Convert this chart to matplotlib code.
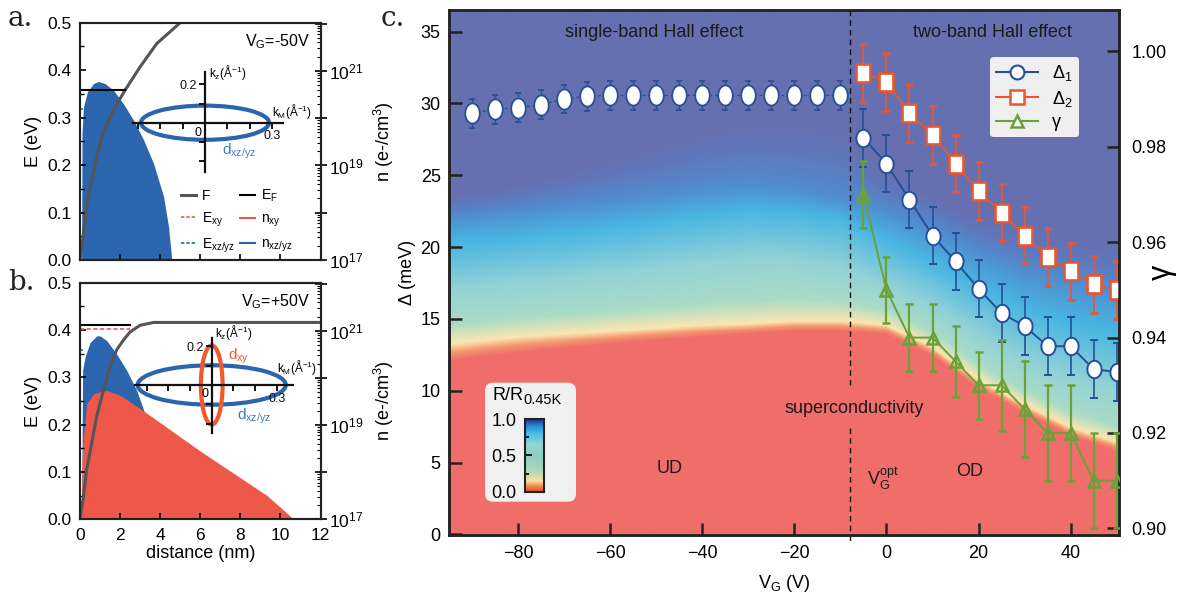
import numpy as np
import matplotlib
matplotlib.use('Agg')
import matplotlib.pyplot as plt
import matplotlib.ticker as mticker
from matplotlib.colors import LinearSegmentedColormap
from matplotlib.patches import Ellipse, FancyBboxPatch
from matplotlib.lines import Line2D
from matplotlib.path import Path

plt.rcParams['font.family'] = ['Liberation Sans', 'DejaVu Sans']
plt.rcParams['mathtext.fontset'] = 'custom'
plt.rcParams['mathtext.rm'] = 'Liberation Sans'
plt.rcParams['mathtext.it'] = 'Liberation Sans:italic'
plt.rcParams['mathtext.bf'] = 'Liberation Sans:bold'
plt.rcParams['mathtext.default'] = 'regular'

# ------------------------------------------------------------------ data
# panel a (V_G = -50 V)
dist_a_F = [0.0, 0.17, 0.37, 0.83, 1.17, 1.67, 2.25, 3.0, 3.83, 5.0, 5.6]
F_a = [0.0, 0.056, 0.126, 0.218, 0.270, 0.316, 0.358, 0.407, 0.456, 0.5, 0.53]
EF_a = 0.358
EF_a_dist = [0.0, 2.25]
Exz_a = 0.318
Exz_a_dist = [0.0, 0.17]
dist_a_xz = [0.08, 0.10, 0.17, 0.37, 0.67, 0.92, 1.25, 1.67, 2.17, 2.67, 3.17, 3.67, 4.17, 4.42, 4.58]
n_a_xz = [1e17, 4.8e19, 1.7e20, 3.6e20, 5.4e20, 6.0e20, 5.4e20, 3.9e20, 2.0e20, 9.1e19,
          3.5e19, 1.1e19, 2.2e18, 5.0e17, 1e17]

# panel b (V_G = +50 V)
dist_b_F = [0.0, 0.17, 0.33, 0.58, 0.83, 1.17, 1.5, 1.83, 2.17, 2.5, 3.0, 3.67, 12.0]
F_b = [0.0, 0.048, 0.104, 0.160, 0.217, 0.273, 0.323, 0.358, 0.379, 0.396, 0.410, 0.416, 0.416]
EF_b = 0.410
EF_b_dist = [0.0, 2.5]
Exy_b = 0.403
Exy_b_dist = [0.0, 2.5]
Exz_b = 0.358
Exz_b_dist = [0.0, 0.15]
dist_b_xz = [0.08, 0.13, 0.25, 0.5, 0.83, 1.0, 1.33, 1.83, 2.33, 2.83, 3.25, 3.67, 4.0, 4.25]
n_b_xz = [1e17, 1.45e20, 2.75e20, 5.6e20, 7.8e20, 7.8e20, 6.2e20, 3.2e20, 1.45e20, 5.4e19,
          1.7e19, 2.9e18, 5e17, 1e17]
dist_b_xy = [0.08, 0.10, 0.17, 0.33, 0.67, 1.0, 1.33, 2.0, 3.17, 6.0, 9.33, 10.67]
n_b_xy = [1e17, 1.6e18, 5.6e18, 2.8e19, 4.6e19, 5.1e19, 5.4e19, 4.3e19, 2.0e19, 2.8e18, 3.2e17, 1e17]

# Fermi surfaces (semi-axes, 1/Angstrom)
fs_a_xz = (0.287, 0.089)
fs_b_xz = (0.341, 0.101)
fs_b_xy = (0.050, 0.203)

# panel c
vg_single = [-90, -85, -80, -75, -70, -65, -60, -55, -50, -45, -40, -35, -30, -25, -20, -15, -10]
delta_single = [29.3, 29.6, 29.7, 29.9, 30.3, 30.5, 30.55, 30.55, 30.55, 30.55, 30.55, 30.55,
                30.55, 30.55, 30.55, 30.55, 30.55]
delta_single_err = [1.0] * 17

vg_two = [-5, 0, 5, 10, 15, 20, 25, 30, 35, 40, 45, 50]
delta1 = [27.6, 25.8, 23.3, 20.8, 19.0, 17.1, 15.4, 14.5, 13.1, 13.1, 11.5, 11.3]
delta1_err = [2.0] * 12
delta2 = [32.1, 31.5, 29.3, 27.8, 25.8, 23.9, 22.4, 20.8, 19.3, 18.3, 17.4, 17.0]
delta2_err = [2.0] * 12
gamma = [0.970, 0.950, 0.940, 0.940, 0.935, 0.930, 0.930, 0.925, 0.920, 0.920, 0.910, 0.910]
gamma_err = [0.007, 0.007, 0.007, 0.007, 0.0075, 0.007, 0.0095, 0.010, 0.010, 0.010, 0.010, 0.010]
vg_opt = -8

# R/R_0.45K map: Delta (meV) at which R/R reaches each level, for several V_G
hm_vg = [-95, -80, -60, -40, -30, -20, -10, 0, 10, 20, 30, 40, 51]
hm_levels = [0.0, 0.15, 0.32, 0.50, 0.75, 0.88, 1.0]
hm_heights = [
    [12.0, 12.6, 13.2, 13.7, 13.9, 14.1, 14.1, 13.9, 12.4, 10.1, 8.4, 6.8, 5.6],
    [13.2, 13.7, 14.1, 14.5, 14.6, 14.8, 14.8, 14.5, 13.0, 10.7, 9.0, 7.4, 6.3],
    [14.6, 15.0, 15.5, 16.0, 16.2, 16.3, 16.2, 15.6, 14.1, 11.8, 10.0, 8.5, 7.4],
    [17.0, 17.4, 18.0, 18.8, 19.0, 19.0, 18.5, 17.3, 15.8, 13.8, 12.0, 10.8, 10.0],
    [20.3, 20.6, 21.3, 22.2, 22.5, 22.4, 22.0, 20.5, 19.0, 17.2, 15.7, 14.7, 14.0],
    [22.0, 22.5, 23.2, 24.0, 24.3, 24.0, 23.3, 22.5, 21.2, 19.6, 18.3, 17.5, 17.0],
    [23.5, 24.3, 26.0, 28.0, 28.6, 28.6, 28.3, 25.0, 23.5, 22.0, 21.0, 20.5, 20.0],
]

# ------------------------------------------------------------------ styles
W, H = 1202, 603
BLUE_FILL = '#2b65ae'
RED_FILL = '#ee5848'
GRAY = '#555555'
C1 = '#24509a'
C2 = '#e9562f'
C3 = '#6aa23a'

heat_cmap = LinearSegmentedColormap.from_list('heat', [
    (0.00, '#f06e6a'), (0.07, '#f4956e'), (0.15, '#fbe6b0'), (0.32, '#a9dcc6'),
    (0.50, '#93d2d6'), (0.75, '#48b6e2'), (0.88, '#4f8ed0'), (0.95, '#6078bd'),
    (1.00, '#6670b0')])
cbar_cmap = LinearSegmentedColormap.from_list('cbar', [
    (0.00, '#e84a2a'), (0.07, '#f08040'), (0.15, '#f8e0a0'), (0.30, '#a8d8b8'),
    (0.50, '#8cd0c0'), (0.65, '#98d4d4'), (0.80, '#48c0e8'), (0.90, '#2890d8'),
    (0.96, '#2058b0'), (1.00, '#203070')])

fig = plt.figure(figsize=(W / 100, H / 100), dpi=100)


def fax(l, t, r, b, **kw):
    return fig.add_axes([l / W, 1 - b / H, (r - l) / W, (b - t) / H], **kw)


def log_fmt(v, p):
    e = int(round(np.log10(v)))
    return r'$10^{%d}$' % e if e % 2 == 1 else ''


def style_ab(ax, ax2, showx):
    ax.set_xlim(0, 12)
    ax.set_ylim(0, 0.5)
    ax.set_xticks(np.arange(0, 13, 2))
    ax.set_yticks(np.arange(0, 0.51, 0.1))
    ax.yaxis.set_minor_locator(mticker.MultipleLocator(0.05))
    ax.yaxis.set_major_formatter(mticker.FormatStrFormatter('%.1f'))
    ax.tick_params(axis='both', which='major', direction='in', length=4, width=1.2,
                   labelsize=12.5, pad=6)
    ax.tick_params(axis='y', which='minor', direction='in', length=3, width=1)
    if not showx:
        ax.tick_params(axis='x', labelbottom=False)
    ax2.set_yscale('log')
    ax2.set_ylim(1e17, 10 ** 22.02)
    ax2.yaxis.set_major_locator(mticker.FixedLocator([10.0 ** k for k in range(17, 23)]))
    ax2.yaxis.set_major_formatter(mticker.FuncFormatter(log_fmt))
    ax2.yaxis.set_minor_locator(mticker.LogLocator(base=10, subs=np.arange(2, 10), numticks=30))
    ax2.yaxis.set_minor_formatter(mticker.NullFormatter())
    ax2.tick_params(axis='y', which='major', direction='inout', length=8, width=1.2,
                    labelsize=12.5, pad=2)
    ax2.tick_params(axis='y', which='minor', direction='in', length=3, width=0.8)
    for a in (ax, ax2):
        for sp in a.spines.values():
            sp.set_linewidth(1.5)
            sp.set_color('#222222')
    ax.set_zorder(ax2.get_zorder() + 1)
    ax.patch.set_visible(False)
    ax.set_ylabel('E (eV)', fontsize=13, labelpad=4)
    ax2.set_ylabel('n (e-/cm$^3$)', fontsize=13, labelpad=6)


def make_inset(l, t, r, b, xlim, ylim):
    ins = fax(l, t, r, b)
    ins.set_xlim(*xlim)
    ins.set_ylim(*ylim)
    ins.patch.set_visible(False)
    ins.spines['left'].set_position(('data', 0))
    ins.spines['bottom'].set_position(('data', 0))
    ins.spines['top'].set_visible(False)
    ins.spines['right'].set_visible(False)
    for s in ('left', 'bottom'):
        ins.spines[s].set_linewidth(1.6)
        ins.spines[s].set_color('#111111')
    ins.set_xticks([-0.3, -0.2, -0.1, 0, 0.1, 0.2, 0.3])
    ins.set_xticklabels(['', '', '', '', '', '', '0.3'])
    ins.set_yticks([-0.2, -0.1, 0, 0.1, 0.2])
    ins.set_yticklabels(['', '', '', '', '0.2'])
    ins.tick_params(direction='out', length=4, width=1.4, labelsize=9, pad=1.5, colors='#111111')
    return ins


# ------------------------------------------------------------------ panel a
axa = fax(80, 22.7, 320.5, 260)
axa2 = axa.twinx()
axa2.fill_between(dist_a_xz, n_a_xz, 1e17, color=BLUE_FILL, lw=0)
axa.plot(dist_a_F, F_a, color=GRAY, lw=2.2, solid_capstyle='butt')
axa.plot(EF_a_dist, [EF_a] * 2, color='black', lw=1.5)
axa.plot(Exz_a_dist, [Exz_a] * 2, color=BLUE_FILL, lw=1.2, ls=(0, (2.5, 1.5)))
style_ab(axa, axa2, showx=False)
axa.text(0.955, 0.92, 'V$_G$=-50V', transform=axa.transAxes, ha='right', va='center', fontsize=11.5)

handles = [
    Line2D([], [], color=GRAY, lw=2.2),
    Line2D([], [], color=RED_FILL, lw=1.2, ls=(0, (2, 1.2))),
    Line2D([], [], color=BLUE_FILL, lw=1.2, ls=(0, (2, 1.2))),
    Line2D([], [], color='black', lw=1.5),
    Line2D([], [], color=RED_FILL, lw=1.5),
    Line2D([], [], color=BLUE_FILL, lw=1.5),
]
labels = ['F', 'E$_{xy}$', 'E$_{xz/yz}$', 'E$_F$', 'n$_{xy}$', 'n$_{xz/yz}$']
axa.legend(handles, labels, ncol=2, loc='upper left', bbox_to_anchor=(0.42, 0.305),
           frameon=False, fontsize=10, handlelength=1.1, handletextpad=0.4,
           columnspacing=0.35, labelspacing=0.55, borderaxespad=0, borderpad=0)

insa = make_inset(133.3, 71.7, 283.3, 171.7, (-0.3215, 0.351), (-0.255, 0.2656))
insa.add_patch(Ellipse((0, 0), 2 * fs_a_xz[0], 2 * fs_a_xz[1], fill=False, ec=BLUE_FILL, lw=3))
insa.text(-0.015, -0.02, '0', ha='right', va='top', fontsize=9)
insa.text(0.02, 0.262, 'k$_z$(Å$^{-1}$)', ha='left', va='center', fontsize=8.5, clip_on=False)
insa.text(0.30, 0.06, 'k$_M$(Å$^{-1}$)', ha='left', va='center', fontsize=8.5, clip_on=False)
insa.text(0.075, -0.15, 'd$_{xz/yz}$', ha='left', va='center', fontsize=11, color='#3d7cc6')

# ------------------------------------------------------------------ panel b
axb = fax(80, 282.7, 320.5, 519.3)
axb2 = axb.twinx()
axb2.fill_between(dist_b_xz, n_b_xz, 1e17, color=BLUE_FILL, lw=0)
axb2.fill_between(dist_b_xy, n_b_xy, 1e17, color=RED_FILL, lw=0)
axb.plot(dist_b_F, F_b, color=GRAY, lw=2.2)
axb.plot(EF_b_dist, [EF_b] * 2, color='black', lw=1.5)
axb.plot(Exy_b_dist, [Exy_b] * 2, color=RED_FILL, lw=1.2, ls=(0, (2.5, 1.5)))
axb.plot(Exz_b_dist, [Exz_b] * 2, color=BLUE_FILL, lw=1.2, ls=(0, (2.5, 1.5)))
style_ab(axb, axb2, showx=True)
axb.set_xlabel('distance (nm)', fontsize=13, labelpad=2)
axb.text(0.955, 0.92, 'V$_G$=+50V', transform=axb.transAxes, ha='right', va='center', fontsize=11.5)

insb = make_inset(135, 338.3, 292.7, 433.3, (-0.3535, 0.373), (-0.2477, 0.2395))
insb.add_patch(Ellipse((0, 0), 2 * fs_b_xz[0], 2 * fs_b_xz[1], fill=False, ec=BLUE_FILL, lw=3))
insb.add_patch(Ellipse((0, 0), 2 * fs_b_xy[0], 2 * fs_b_xy[1], fill=False, ec='#f0582e', lw=3))
insb.text(-0.015, -0.015, '0', ha='right', va='top', fontsize=9)
insb.text(0.015, 0.27, 'k$_z$(Å$^{-1}$)', ha='left', va='center', fontsize=8.5, clip_on=False)
insb.text(0.30, 0.09, 'k$_M$(Å$^{-1}$)', ha='left', va='center', fontsize=8.5, clip_on=False)
insb.text(0.075, 0.145, 'd$_{xy}$', ha='left', va='center', fontsize=11, color='#f0582e')
insb.text(0.115, -0.163, 'd$_{xz/yz}$', ha='left', va='center', fontsize=11, color='#3d7cc6')

# ------------------------------------------------------------------ panel c
axc = fax(449, 10, 1119, 535)
vg_grid = np.linspace(-95, 51, 730)
d_grid = np.linspace(0, 36.5, 600)
lev_h = np.array([np.interp(vg_grid, hm_vg, row) for row in hm_heights])
R = np.empty((d_grid.size, vg_grid.size))
for j in range(vg_grid.size):
    R[:, j] = np.interp(d_grid, lev_h[:, j], hm_levels)
axc.imshow(R, origin='lower', extent=[-95, 51, 0, 36.5], aspect='auto', cmap=heat_cmap,
           vmin=0, vmax=1, interpolation='bilinear', zorder=0)
axc.set_xlim(-95, 50.5)
axc.set_ylim(-0.04, 36.5)
axc.set_xticks([-80, -60, -40, -20, 0, 20, 40])
axc.set_yticks([0, 5, 10, 15, 20, 25, 30, 35])
axc.tick_params(axis='both', direction='in', length=9, width=1.8, labelsize=13, color='#222222')
axc.tick_params(axis='x', pad=7)
axc.tick_params(axis='y', pad=6)
for sp in axc.spines.values():
    sp.set_linewidth(1.8)
    sp.set_color('#222222')
axc.set_xlabel('V$_G$ (V)', fontsize=13, labelpad=8)
axc.set_ylabel('Δ (meV)', fontsize=13, labelpad=3)

# dashed optimal-doping line (broken around the text)
axc.plot([vg_opt, vg_opt], [36.5, 10.4], color='#111111', lw=1, ls=(0, (4, 3)), zorder=3)
axc.plot([vg_opt, vg_opt], [7.4, -0.6], color='#111111', lw=1, ls=(0, (4, 3)), zorder=3,
         clip_on=False)

txt_kw = dict(fontsize=13, color='#1a1a1a', ha='center', va='center', zorder=4)
axc.text(-50.4, 34.9, 'single-band Hall effect', **txt_kw)
axc.text(23.1, 34.9, 'two-band Hall effect', **txt_kw)
axc.text(-6.9, 8.73, 'superconductivity', **txt_kw)
axc.text(-47.1, 4.62, 'UD', **txt_kw)
axc.text(18.1, 4.35, 'OD', **txt_kw)
axc.text(-0.8, 3.9, 'V$_G^{opt}$', **txt_kw)


def ellipse_marker(ratio):
    t = np.linspace(0, 2 * np.pi, 64)
    return Path(np.column_stack([ratio * np.cos(t), np.sin(t)]))


def rect_marker(ratio):
    return Path([(-ratio, -1), (ratio, -1), (ratio, 1), (-ratio, 1), (-ratio, -1)])


axc.errorbar(vg_single, delta_single, yerr=delta_single_err, color=C1, lw=1.0,
             ls=(0, (2, 2)), elinewidth=1.0, capsize=2.5, capthick=1.0,
             marker=ellipse_marker(0.72), ms=14.5, mfc='white', mec=C1, mew=1.3, zorder=5)
axc.errorbar(vg_two, delta1, yerr=delta1_err, color=C1, lw=1.4, elinewidth=1.2,
             capsize=3, capthick=1.2, marker=ellipse_marker(0.82), ms=12.5, mfc='white',
             mec=C1, mew=1.4, zorder=5)
axc.errorbar(vg_two, delta2, yerr=delta2_err, color=C2, lw=1.2, elinewidth=1.2,
             capsize=3, capthick=1.2, marker=rect_marker(0.8), ms=13, mfc='white',
             mec=C2, mew=1.9, zorder=5)

axc2 = axc.twinx()
axc2.set_ylim(0.8986, 1.0087)
axc2.errorbar(vg_two, gamma, yerr=gamma_err, color=C3, lw=1.4, elinewidth=1.6,
              capsize=3, capthick=1.6, marker='^', ms=8, mfc='none', mec=C3, mew=1.8, zorder=5)
axc2.set_yticks([0.90, 0.92, 0.94, 0.96, 0.98, 1.00])
axc2.yaxis.set_major_formatter(mticker.FormatStrFormatter('%.2f'))
axc2.tick_params(axis='y', direction='in', length=9, width=1.8, labelsize=13, pad=9,
                 color='#222222')
for sp in axc2.spines.values():
    sp.set_linewidth(1.8)
    sp.set_color('#222222')
axc2.set_ylabel('γ', fontsize=22, labelpad=-14)

leg_handles = [
    Line2D([], [], color=C1, lw=1.5, marker='o', ms=10, mfc='white', mec=C1, mew=1.5),
    Line2D([], [], color=C2, lw=1.5, marker='s', ms=10, mfc='white', mec=C2, mew=1.8),
    Line2D([], [], color=C3, lw=1.5, marker='^', ms=8, mfc='white', mec=C3, mew=1.8),
]
axc2.legend(leg_handles, ['Δ$_1$', 'Δ$_2$', 'γ'], loc='upper left',
            bbox_to_anchor=(0.8075, 0.9105), frameon=True, facecolor='#efefef',
            edgecolor='none', framealpha=1, fancybox=True, fontsize=13, handlelength=2.3,
            handletextpad=0.8, borderpad=0.35, labelspacing=0.3, borderaxespad=0)

# colour scale inset
box = FancyBboxPatch((485 / W, 1 - 501.7 / H), 91 / W, 119 / H,
                     boxstyle='round,pad=0,rounding_size=%f' % (8 / W),
                     mutation_aspect=W / H, transform=fig.transFigure,
                     fc='#f0f0f0', ec='none', zorder=2)
fig.add_artist(box)
cax = fax(525, 419, 544.3, 491.7)
cax.set_zorder(5)
cax.imshow(np.linspace(0, 1, 256)[:, None], origin='lower', aspect='auto', cmap=cbar_cmap,
           extent=[0, 1, 0, 1])
cax.set_xticks([])
cax.set_yticks([0, 0.5, 1.0])
cax.set_yticklabels(['0.0', '0.5', '1.0'])
cax.yaxis.set_minor_locator(mticker.FixedLocator([0.25, 0.75]))
cax.tick_params(axis='y', which='major', direction='in', length=5, width=1.2, labelsize=13, pad=6)
cax.tick_params(axis='y', which='minor', direction='in', length=3, width=1.2)
for sp in cax.spines.values():
    sp.set_linewidth(1.5)
    sp.set_color('#222222')
fig.text(492 / W, 1 - 400 / H, 'R/R', fontsize=13, ha='left', va='baseline', zorder=6)
fig.text(523 / W, 1 - 404 / H, '0.45K', fontsize=10.5, ha='left', va='baseline', zorder=6)

# panel letters
fig.text(8 / W, 1 - 26 / H, 'a.', fontsize=20, family='DejaVu Serif', va='baseline', color='#222222')
fig.text(8 / W, 1 - 290 / H, 'b.', fontsize=20, family='DejaVu Serif', va='baseline', color='#222222')
fig.text(381 / W, 1 - 26 / H, 'c.', fontsize=20, family='DejaVu Serif', va='baseline', color='#222222')

fig.savefig('out.png', dpi=100)
